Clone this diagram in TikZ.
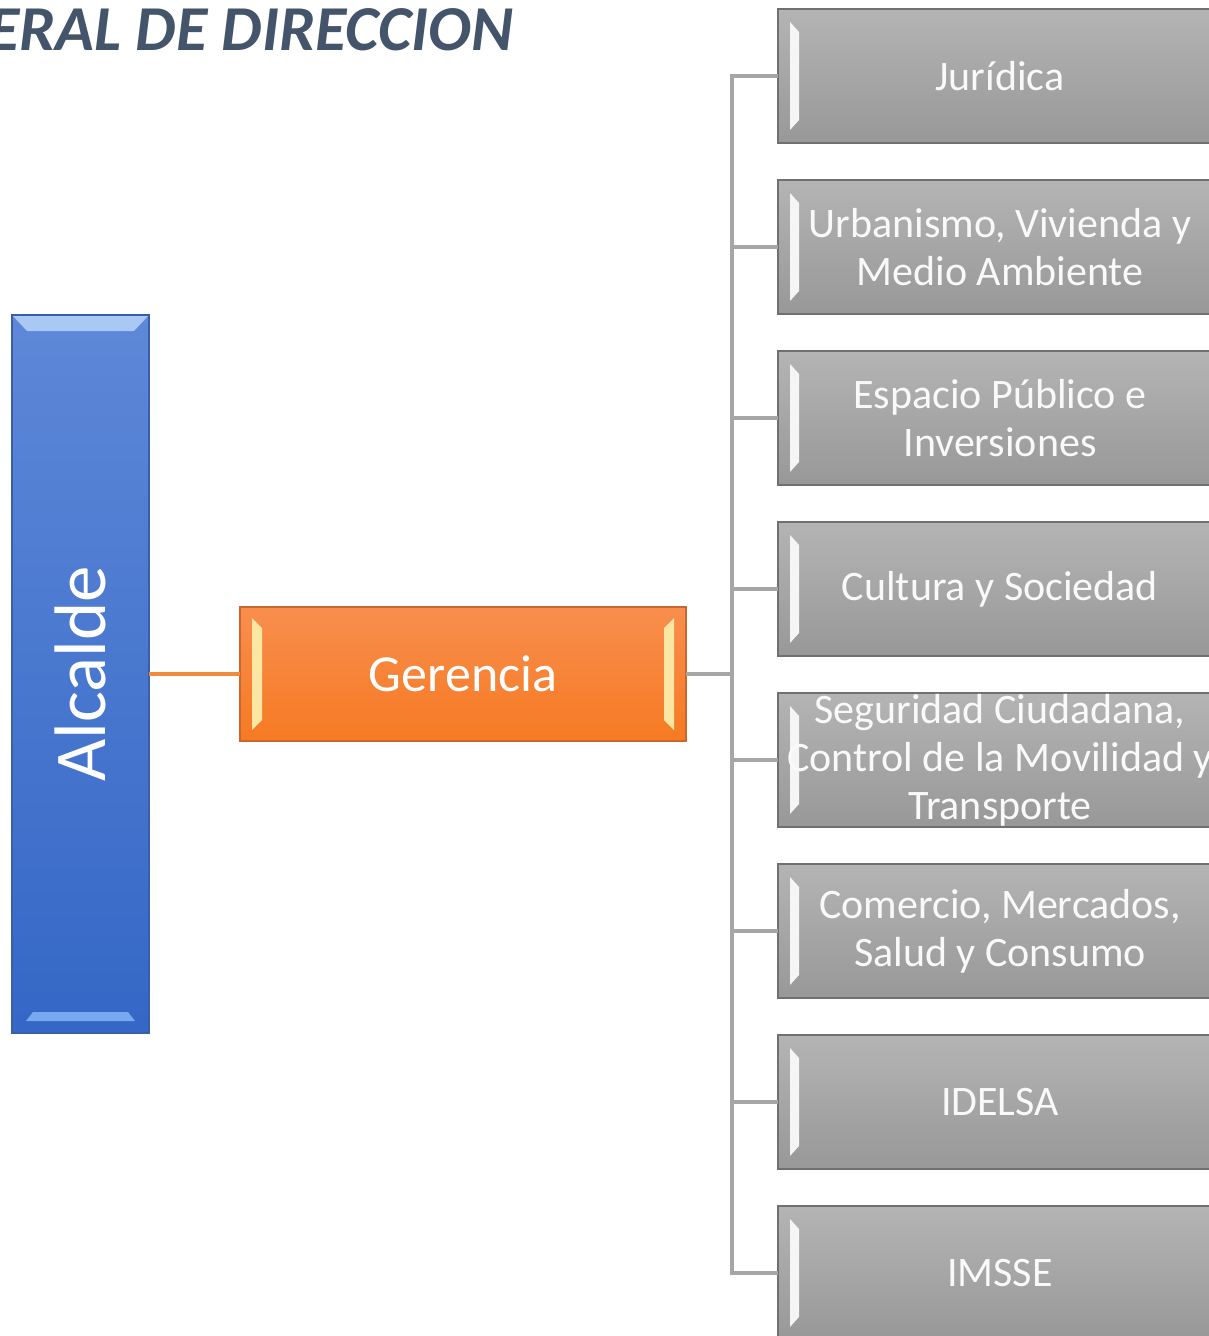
\documentclass[tikz,border=0pt]{standalone}
\usepackage{fontspec}
\setmainfont{Carlito}
\usepackage{graphicx}
\usepackage{xcolor}
\usetikzlibrary{positioning,calc}
\definecolor{titleblue}{HTML}{44546A}
\definecolor{alctop}{HTML}{5E88D8}
\definecolor{alcbot}{HTML}{3467C6}
\definecolor{alcedge}{HTML}{3A5EA8}
\definecolor{alclight}{HTML}{A9C8F4}
\definecolor{alcglow}{HTML}{78A8EE}
\definecolor{gertop}{HTML}{F88E4E}
\definecolor{gerbot}{HTML}{F67A22}
\definecolor{geredge}{HTML}{C8682E}
\definecolor{gerlight}{HTML}{FCE6A4}
\definecolor{graytop}{HTML}{B4B4B4}
\definecolor{graybot}{HTML}{989898}
\definecolor{grayedge}{HTML}{707070}
\definecolor{linegray}{HTML}{A6A6A6}
\definecolor{lineorange}{HTML}{F08A3C}

\begin{document}
\begin{tikzpicture}[x=1pt, y=-1pt,
    unitbox/.style={draw=grayedge, line width=1.5pt, rectangle, top color=graytop, bottom color=graybot,
        minimum width=444pt, minimum height=134pt, inner sep=0pt, outer sep=0pt, align=center,
        text=white!95!gray, font=\fontsize{42}{48}\selectfont,
        path picture={\fill[white!92!gray] ([shift={(12,13)}]path picture bounding box.north west) -- ([shift={(21,23)}]path picture bounding box.north west) -- ([shift={(21,-23)}]path picture bounding box.south west) -- ([shift={(12,-13)}]path picture bounding box.south west) -- cycle;}},
    conn/.style={draw=linegray, line width=3.5pt},
]
\useasboundingbox (0,0) rectangle (1209,1336);

\node[anchor=base west, text=titleblue, font=\fontsize{64}{70}\selectfont\bfseries\itshape, inner sep=0pt] (title) at (-12,50) {ERAL DE DIRECCION};

\node[draw=alcedge, line width=1.5pt, rectangle, top color=alctop, bottom color=alcbot, minimum width=137pt, minimum height=718pt, inner sep=0pt, outer sep=0pt, text=white, font=\fontsize{73}{80}\selectfont,
    path picture={\fill[alclight] ([shift={(1,1)}]path picture bounding box.north west) -- ([shift={(-1,1)}]path picture bounding box.north east) -- ([shift={(-15,16)}]path picture bounding box.north east) -- ([shift={(15,16)}]path picture bounding box.north west) -- cycle;
    \fill[alcglow] ([shift={(14,-12)}]path picture bounding box.south west) -- ([shift={(-14,-12)}]path picture bounding box.south east) -- ([shift={(-21,-21)}]path picture bounding box.south east) -- ([shift={(21,-21)}]path picture bounding box.south west) -- cycle;}] (alc) at (80.5,674) {\rotatebox{90}{Alcalde}};

\node[draw=geredge, line width=1.5pt, rectangle, top color=gertop, bottom color=gerbot, minimum width=446pt, minimum height=134pt, inner sep=0pt, outer sep=0pt, text=white, font=\fontsize{52}{60}\selectfont, right=91pt of alc,
    path picture={\fill[gerlight] ([shift={(12,11)}]path picture bounding box.north west) -- ([shift={(22,21)}]path picture bounding box.north west) -- ([shift={(22,-21)}]path picture bounding box.south west) -- ([shift={(12,-11)}]path picture bounding box.south west) -- cycle;
    \fill[gerlight] ([shift={(-12,11)}]path picture bounding box.north east) -- ([shift={(-22,21)}]path picture bounding box.north east) -- ([shift={(-22,-21)}]path picture bounding box.south east) -- ([shift={(-12,-11)}]path picture bounding box.south east) -- cycle;}] (ger) {Gerencia};

\node[unitbox] (jur) at (1000,76) {Jurídica};
\node[unitbox, below=37pt of jur] (urb) {Urbanismo, Vivienda y\\Medio Ambiente};
\node[unitbox, below=37pt of urb] (esp) {Espacio Público e\\Inversiones};
\node[unitbox, below=37pt of esp] (cul) {Cultura y Sociedad};
\node[unitbox, below=37pt of cul] (seg) {Seguridad Ciudadana,\\Control de la Movilidad y\\Transporte};
\node[unitbox, below=37pt of seg] (com) {Comercio, Mercados,\\Salud y Consumo};
\node[unitbox, below=37pt of com] (ide) {IDELSA};
\node[unitbox, below=37pt of ide] (ims) {IMSSE};

\coordinate (trunk) at (732,674);
\draw[draw=lineorange, line width=3.5pt] (alc.east) -- (ger.west);
\draw[conn] (ger.east) -- (trunk);
\draw[conn] (jur.west) -- (jur.west -| trunk) -- (ims.west -| trunk) -- (ims.west);
\foreach \n in {urb,esp,cul,seg,com,ide}
    \draw[conn] (\n.west) -- (\n.west -| trunk);
\end{tikzpicture}
\end{document}
